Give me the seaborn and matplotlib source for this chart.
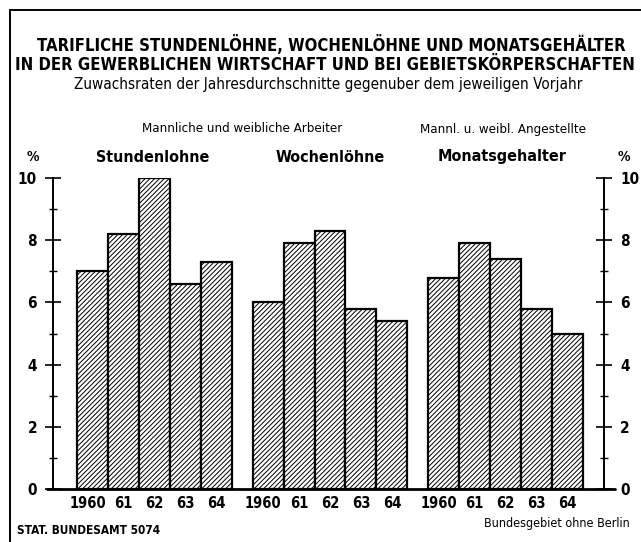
import numpy as np
import pandas as pd
import seaborn as sns
import matplotlib.pyplot as plt
from matplotlib.lines import Line2D
from matplotlib.transforms import ScaledTranslation

# data
groups = ["Stundenlohne", "Wochenlöhne", "Monatsgehalter"]
years = ["1960", "61", "62", "63", "64"]
stundenlohne = [7.0, 8.2, 10.0, 6.6, 7.3]
wochenloehne = [6.0, 7.9, 8.3, 5.8, 5.4]
monatsgehalter = [6.8, 7.9, 7.4, 5.8, 5.0]
y_ticks = [0, 2, 4, 6, 8, 10]

W, H = 641, 542
GAP = 0.68  # space between groups, in bar widths

sns.set_theme(style="white")
plt.rcParams["font.family"] = ["DejaVu Sans"]
plt.rcParams["font.stretch"] = "condensed"
plt.rcParams["text.color"] = "black"
plt.rcParams["xtick.color"] = "black"
plt.rcParams["ytick.color"] = "black"
plt.rcParams["hatch.linewidth"] = 0.7


def fx(px):
    return px / W


def fy(py):
    return 1 - py / H


rows = []
for g, vals in enumerate([stundenlohne, wochenloehne, monatsgehalter]):
    for i, v in enumerate(vals):
        rows.append({"group": groups[g], "year": years[i],
                     "pos": g * (5 + GAP) + i, "value": v})
df = pd.DataFrame(rows)

fig = plt.figure(figsize=(W / 100, H / 100), dpi=100)
fig.patch.set_facecolor("white")
ax = fig.add_axes([fx(53), 1 - 489 / H, (604 - 53) / W, (489 - 178) / H])

sns.barplot(data=df, x="pos", y="value", native_scale=True, width=1,
            color="white", edgecolor="black", linewidth=1.6, hatch="///////",
            ax=ax, errorbar=None)
for p in ax.patches:
    p.set_facecolor("white")

ax.set_xlim(-0.5 - 24 / 31, 2 * (5 + GAP) + 4.5 + 21 / 31)
ax.set_ylim(0, 10)
ax.set_xlabel("")
ax.set_ylabel("")

ax.set_xticks(df["pos"])
ax.set_xticklabels(df["year"], fontsize=10.5, fontweight="bold")
ax.tick_params(axis="x", length=0, pad=5)
shift = ScaledTranslation(-5 / 100, 0, fig.dpi_scale_trans)
for lbl in ax.get_xticklabels():
    if lbl.get_text() == "1960":
        lbl.set_transform(lbl.get_transform() + shift)

ax.set_yticks(y_ticks)
ax.set_yticks([1, 3, 5, 7, 9], minor=True)
ax.tick_params(axis="y", which="major", direction="inout", length=11, width=1.2,
               left=True, right=True, labelleft=True, labelright=True,
               labelsize=11, pad=6)
ax.tick_params(axis="y", which="minor", direction="inout", length=6, width=1.0,
               left=True, right=True)
for lbl in ax.get_yticklabels():
    lbl.set_fontweight("bold")

for side in ["top", "bottom"]:
    ax.spines[side].set_visible(False)
for side in ["left", "right"]:
    ax.spines[side].set_color("black")
    ax.spines[side].set_linewidth(1.4)
ax.axhline(0, xmin=-0.011, xmax=1.02, color="black", lw=2.0, clip_on=False)

# frame
fig.add_artist(Line2D([fx(10), fx(10)], [0, fy(10)], color="black", lw=1.4))
fig.add_artist(Line2D([fx(10), 1], [fy(10), fy(10)], color="black", lw=1.4))

# titles
fig.text(fx(331), fy(45), "TARIFLICHE STUNDENLÖHNE, WOCHENLÖHNE UND MONATSGEHÄLTER",
         ha="center", va="center", fontsize=12, fontweight="bold")
fig.text(fx(325), fy(65), "IN DER GEWERBLICHEN WIRTSCHAFT UND BEI GEBIETSKÖRPERSCHAFTEN",
         ha="center", va="center", fontsize=12, fontweight="bold")
fig.text(fx(328), fy(85), "Zuwachsraten der Jahresdurchschnitte gegenuber dem jeweiligen Vorjahr",
         ha="center", va="center", fontsize=11)

fig.text(fx(242), fy(129), "Mannliche und weibliche Arbeiter",
         ha="center", va="center", fontsize=9.5)
fig.text(fx(503), fy(129), "Mannl. u. weibl. Angestellte",
         ha="center", va="center", fontsize=9.5)
for name, cx in zip(groups, [153, 330, 502]):
    fig.text(fx(cx), fy(157), name, ha="center", va="center",
             fontsize=11.5, fontweight="bold")

fig.text(fx(33), fy(157), "%", ha="center", va="center", fontsize=10, fontweight="bold")
fig.text(fx(624), fy(157), "%", ha="center", va="center", fontsize=10, fontweight="bold")

fig.text(fx(17), fy(531), "STAT. BUNDESAMT 5074", ha="left", va="center",
         fontsize=8.5, fontweight="bold")
fig.text(fx(630), fy(523), "Bundesgebiet ohne Berlin", ha="right", va="center",
         fontsize=9)

fig.savefig("out.png", dpi=100)
